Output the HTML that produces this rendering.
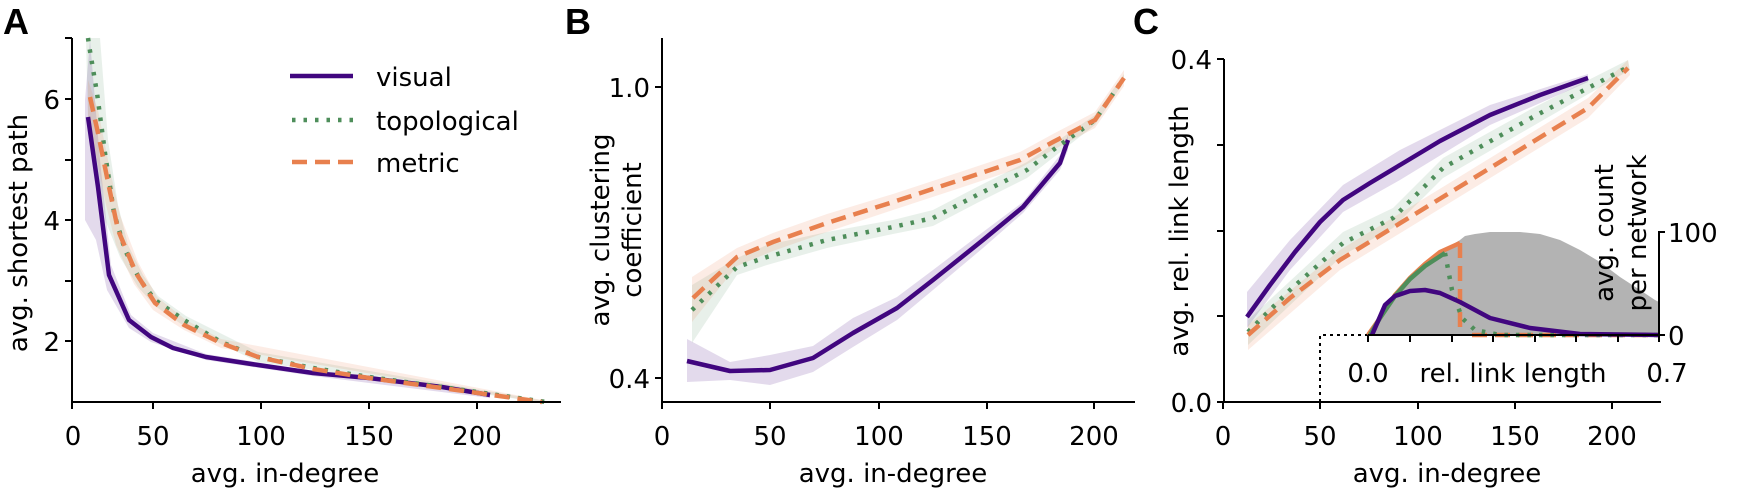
<!DOCTYPE html>
<html><head><meta charset="utf-8"><style>
html,body{margin:0;padding:0;background:#fff}
svg text{font-family:"DejaVu Sans","Liberation Sans",sans-serif;fill:#000}
</style></head><body>
<svg width="1748" height="491" viewBox="0 0 1748 491" xmlns="http://www.w3.org/2000/svg">
<defs>
<style>
.ax{stroke:#000;stroke-width:2;fill:none}
.pu{stroke:#41067f;stroke-width:4.5;fill:none;stroke-linejoin:round}
.gr{stroke:#4e8e5a;stroke-width:4.5;fill:none;stroke-dasharray:3.5 8}
.or{stroke:#e8804e;stroke-width:4.5;fill:none;stroke-dasharray:15 8}
.bp{fill:#41067f;opacity:0.15}
.bg{fill:#4e8e5a;opacity:0.13}
.bo{fill:#e8804e;opacity:0.15}
.tl{font-size:26px}
</style>
</defs>
<!-- Panel labels -->
<text x="3" y="34" style="font-family:'Liberation Sans',sans-serif;font-weight:bold;font-size:36px">A</text>
<text x="565" y="34" style="font-family:'Liberation Sans',sans-serif;font-weight:bold;font-size:36px">B</text>
<text x="1133" y="34" style="font-family:'Liberation Sans',sans-serif;font-weight:bold;font-size:36px">C</text>

<!-- ===== Panel A ===== -->
<polygon class="bp" points="85,100 90,40 100,160 111,265 131,315 153,333 206,354 313,371 490,393 490,398 313,376 206,360 151,342 129,328 107,290 96,240 85,220"/>
<polygon class="bg" points="86,38 100,38 108,140 118,205 128,245 143,275 158,296 186,316 258,352 546,401 546,403 258,362 184,326 155,306 138,287 120,257 106,222 96,170 88,120"/>
<polygon class="bo" points="88,80 98,110 110,170 120,215 138,262 157,297 186,320 221,339 542,400 542,403 221,348 184,330 153,310 134,284 116,245 106,205 96,155 88,115"/>
<polyline class="pu" points="88,117 98,187 109,275 129,320 151,337 173,348 206,357 258,365 313,373 369,378 442,387 490,395"/>
<polyline class="gr" points="88,38 89,45 97,93 105,153 114,213 125,250 140,280 155,300 184,320 221,342 258,357 313,368 369,377 442,387 546,402"/>
<polyline class="or" points="90,97 98,133 109,187 118,230 136,273 155,303 184,325 221,343 258,357 313,369 369,378 442,388 542,402"/>
<path class="ax" d="M72,38 V402 H561"/>
<path class="ax" d="M65,38H72M65,99H72M65,160H72M65,220H72M65,281H72M65,341H72M72,402V409M153,402V409M261,402V409M369,402V409M477,402V409"/>
<g class="tl" text-anchor="end">
<text x="60" y="109">6</text><text x="60" y="230">4</text><text x="60" y="351">2</text>
</g>
<g class="tl" text-anchor="middle">
<text x="73" y="445">0</text><text x="153" y="445">50</text><text x="261" y="445">100</text><text x="369" y="445">150</text><text x="477" y="445">200</text>
<text x="285" y="482">avg. in-degree</text>
<text transform="translate(27,233) rotate(-90)">avg. shortest path</text>
</g>
<!-- legend -->
<line x1="290" y1="76" x2="353" y2="76" class="pu"/>
<line x1="292" y1="120" x2="353" y2="120" class="gr"/>
<line x1="292" y1="162" x2="353" y2="162" class="or"/>
<text class="tl" x="376" y="86">visual</text>
<text class="tl" x="376" y="130">topological</text>
<text class="tl" x="376" y="172">metric</text>

<!-- ===== Panel B ===== -->
<polygon class="bp" points="687,339 730,362 770,355 813,346 853,318 897,297 933,270 983,232 1023,202 1060,155 1068,135 1068,150 1060,170 1023,213 983,248 933,290 897,320 853,347 813,372 770,385 730,380 687,382"/>
<polygon class="bg" points="692,285 737,258 767,245 827,232 893,220 933,210 977,187 1027,162 1095,115 1124,74 1124,82 1095,125 1027,178 977,203 933,226 893,234 827,248 767,265 737,275 692,343"/>
<polygon class="bo" points="692,277 737,248 773,233 827,214 893,194 960,172 1020,152 1053,134 1095,112 1124,70 1124,86 1095,128 1053,150 1020,168 960,188 893,210 827,232 773,251 737,266 692,322"/>
<polyline class="pu" points="687,361 730,371 770,370 813,358 853,333 897,308 933,280 983,240 1023,207 1060,163 1068,140"/>
<polyline class="gr" points="692,310 737,267 767,257 827,240 893,227 933,218 977,195 1027,170 1053,150 1095,120 1124,78"/>
<polyline class="or" points="693,298 737,257 773,242 827,223 893,202 960,180 1020,160 1053,142 1095,120 1124,78"/>
<path class="ax" d="M662,38 V402 H1135"/>
<path class="ax" d="M655,87H662M655,378H662M662,402V409M770,402V409M879,402V409M987,402V409M1094,402V409"/>
<g class="tl" text-anchor="end">
<text x="650" y="97">1.0</text><text x="650" y="388">0.4</text>
</g>
<g class="tl" text-anchor="middle">
<text x="662" y="445">0</text><text x="770" y="445">50</text><text x="879" y="445">100</text><text x="987" y="445">150</text><text x="1094" y="445">200</text>
<text x="893" y="482">avg. in-degree</text>
<text transform="translate(609,230) rotate(-90)">avg. clustering</text>
<text transform="translate(641,230) rotate(-90)">coefficient</text>
</g>

<!-- ===== Panel C ===== -->
<polygon class="bp" points="1247,292 1290,240 1343,185 1400,150 1490,105 1588,74 1588,82 1490,125 1400,180 1343,212 1290,270 1247,328"/>
<polygon class="bg" points="1248,320 1343,232 1393,208 1443,158 1533,108 1628,60 1630,70 1533,126 1443,178 1393,228 1343,255 1248,345"/>
<polygon class="bo" points="1248,325 1340,250 1588,98 1628,60 1630,75 1588,118 1340,270 1248,350"/>
<polyline class="pu" points="1247,317 1270,285 1295,252 1320,222 1343,200 1370,183 1400,165 1440,141 1490,115 1540,95 1588,78"/>
<polyline class="gr" points="1248,332 1290,290 1343,243 1393,218 1443,168 1533,117 1628,67"/>
<polyline class="or" points="1248,335 1290,298 1340,260 1588,108 1628,68"/>
<path class="ax" d="M1224,59 V402 H1661"/>
<path class="ax" d="M1217,59H1224M1217,145H1224M1217,231H1224M1217,316H1224M1217,402H1224M1223,402V409M1320,402V409M1418,402V409M1515,402V409M1612,402V409"/>
<g class="tl" text-anchor="end">
<text x="1212" y="69">0.4</text><text x="1212" y="412">0.0</text>
</g>
<g class="tl" text-anchor="middle">
<text x="1223" y="445">0</text><text x="1320" y="445">50</text><text x="1418" y="445">100</text><text x="1515" y="445">150</text><text x="1612" y="445">200</text>
<text x="1447" y="482">avg. in-degree</text>
<text transform="translate(1188,231) rotate(-90)">avg. rel. link length</text>
</g>
<!-- inset -->
<rect x="1321" y="336" width="340" height="65" fill="#fff"/>
<path d="M1320,402 V335 H1368" stroke="#000" stroke-width="2" fill="none" stroke-dasharray="3 4"/>
<polygon fill="#b3b3b3" points="1370,335 1390,300 1410,275 1430,258 1450,246 1460,240 1465,236 1475,234 1490,232 1520,232 1540,234 1560,240 1580,250 1600,262 1620,277 1640,290 1655,300 1659,302 1659,335"/>
<polyline points="1368,335 1380,318 1395,295 1410,278 1425,264 1440,252 1460,243" fill="none" stroke="#e8804e" stroke-width="4.5"/>
<line x1="1460" y1="243" x2="1460" y2="335" class="or"/>
<line x1="1472" y1="335" x2="1659" y2="335" class="or"/>
<polyline points="1370,335 1380,318 1395,296 1410,279 1425,266 1445,253" fill="none" stroke="#4e8e5a" stroke-width="4.5"/>
<polyline class="gr" points="1445,253 1452,290 1462,318 1475,330 1500,335 1659,335"/>
<polyline class="pu" points="1372,335 1385,305 1395,296 1410,291 1425,290 1440,293 1460,302 1490,318 1530,328 1580,334 1659,335"/>
<path class="ax" d="M1368,335 H1659 V232 H1665"/>
<path class="ax" d="M1368,335V342M1410,335V342M1452,335V342M1493,335V342M1535,335V342M1576,335V342M1618,335V342M1659,335V342M1659,335H1665"/>
<g class="tl">
<text x="1668" y="242">100</text><text x="1668" y="345">0</text>
<text x="1368" y="382" text-anchor="middle">0.0</text>
<text x="1667" y="382" text-anchor="middle">0.7</text>
<text x="1513" y="382" text-anchor="middle">rel. link length</text>
<text transform="translate(1613,233) rotate(-90)" text-anchor="middle">avg. count</text>
<text transform="translate(1646,233) rotate(-90)" text-anchor="middle">per network</text>
</g>
</svg>
</body></html>
